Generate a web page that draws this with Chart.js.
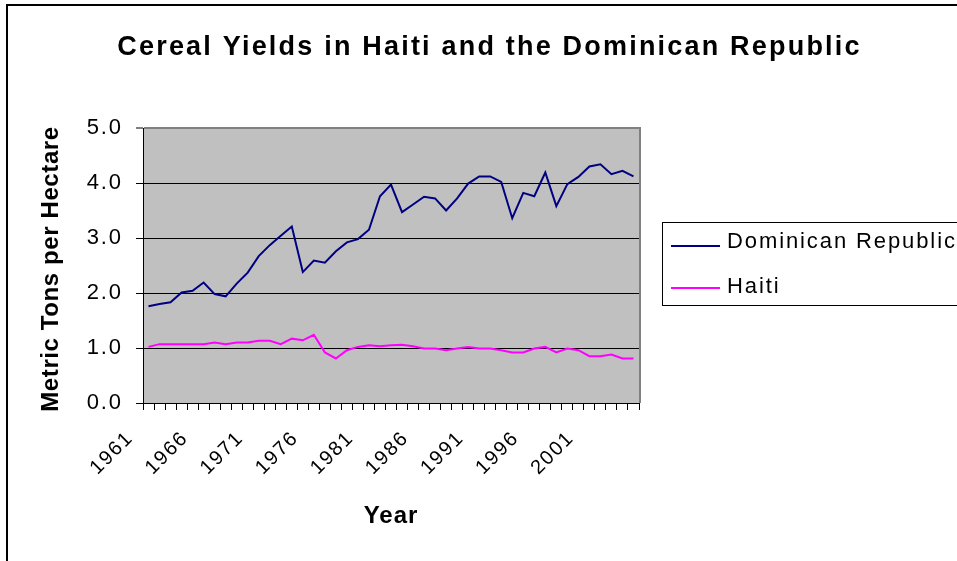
<!DOCTYPE html>
<html>
<head>
<meta charset="utf-8">
<script src="https://cdn.jsdelivr.net/npm/chart.js"></script>
<style>
html,body{margin:0;padding:0;background:#fff;}
canvas{display:block;}
</style>
</head>
<body>
<canvas id="c" width="957" height="561" style="width:957px;height:561px"></canvas>
<script>
// ---------- data ----------
const years = ['1961','1962','1963','1964','1965','1966','1967','1968','1969','1970',
  '1971','1972','1973','1974','1975','1976','1977','1978','1979','1980',
  '1981','1982','1983','1984','1985','1986','1987','1988','1989','1990',
  '1991','1992','1993','1994','1995','1996','1997','1998','1999','2000',
  '2001','2002','2003','2004','2005'];
const shownYearLabels = ['1961','1966','1971','1976','1981','1986','1991','1996','2001'];
const dominicanRepublic = [1.76,1.80,1.83,2.01,2.04,2.19,1.98,1.94,2.17,2.37,
  2.67,2.87,3.04,3.21,2.38,2.59,2.55,2.76,2.92,2.98,
  3.15,3.76,3.97,3.47,3.61,3.75,3.72,3.50,3.72,3.99,
  4.12,4.12,4.02,3.36,3.82,3.76,4.19,3.58,3.98,4.11,
  4.30,4.34,4.16,4.22,4.12];
const haiti = [1.02,1.07,1.07,1.07,1.07,1.07,1.10,1.07,1.10,1.10,
  1.13,1.13,1.07,1.17,1.14,1.24,0.92,0.81,0.96,1.02,
  1.05,1.03,1.05,1.06,1.03,0.99,0.99,0.96,0.99,1.02,
  0.99,0.99,0.96,0.92,0.92,0.99,1.02,0.92,0.99,0.96,
  0.85,0.85,0.88,0.81,0.81];
const seriesNames = ['Dominican Republic','Haiti'];
const chartTitle = 'Cereal Yields in Haiti and the Dominican Republic';
const yAxisTitle = 'Metric Tons per Hectare';
const xAxisTitle = 'Year';

// ---------- styling ----------
const FONT = "'Liberation Sans', Arial, Helvetica, sans-serif";
Chart.defaults.font.family = FONT;
Chart.defaults.color = '#000';

function patchScale(s, titleSp, labelSp, titleShiftY) {
  if (s.__patched) return;
  s.__patched = true;
  const dt = s.drawTitle.bind(s);
  const dl = s.drawLabels.bind(s);
  s.drawTitle = function () {
    const c = this.ctx, o = c.letterSpacing;
    c.save();
    c.translate(0, titleShiftY || 0);
    c.letterSpacing = titleSp; dt();
    c.restore();
    c.letterSpacing = o;
  };
  s.drawLabels = function (a) {
    const c = this.ctx, o = c.letterSpacing;
    c.letterSpacing = labelSp; dl(a); c.letterSpacing = o;
  };
}

const framePlugin = {
  id: 'frame',
  beforeDraw(chart) {
    const {ctx, chartArea: a} = chart;
    ctx.save();
    ctx.fillStyle = '#C0C0C0';
    ctx.fillRect(a.left, a.top, a.right - a.left, a.bottom - a.top);
    ctx.restore();
    ctx.letterSpacing = '2.2px';
  },
  beforeDatasetsDraw(chart) {
    const {ctx, chartArea: a} = chart;
    ctx.save();
    ctx.strokeStyle = '#808080';
    ctx.lineWidth = 2;
    ctx.beginPath();
    ctx.moveTo(a.right + 1, a.top - 1);
    ctx.lineTo(a.right + 1, a.bottom);
    ctx.stroke();
    ctx.restore();
  },
  afterDraw(chart) {
    const ctx = chart.ctx;
    ctx.save();
    // outer chart border
    ctx.strokeStyle = '#000';
    ctx.lineWidth = 2;
    ctx.strokeRect(7, 5, 2000, 2000);
    // legend
    ctx.lineWidth = 1;
    ctx.strokeRect(662.5, 222.5, 400, 83);
    const rows = [246, 288];
    const textY = [242, 287];
    ctx.font = '22px ' + FONT;
    ctx.textBaseline = 'middle';
    ctx.textAlign = 'left';
    ctx.letterSpacing = '1.9px';
    chart.data.datasets.forEach((ds, i) => {
      ctx.strokeStyle = ds.borderColor;
      ctx.lineWidth = 2;
      ctx.beginPath();
      ctx.moveTo(671, rows[i]);
      ctx.lineTo(720, rows[i]);
      ctx.stroke();
      ctx.fillStyle = '#000';
      ctx.fillText(ds.label, 727, textY[i]);
    });
    ctx.restore();
  }
};

new Chart(document.getElementById('c'), {
  type: 'line',
  data: {
    labels: years,
    datasets: [
      {label: seriesNames[0], data: dominicanRepublic, borderColor: '#000080', backgroundColor: '#000080',
       borderWidth: 2, pointRadius: 0, tension: 0, fill: false},
      {label: seriesNames[1], data: haiti, borderColor: '#FF00FF', backgroundColor: '#FF00FF',
       borderWidth: 2, pointRadius: 0, tension: 0, fill: false}
    ]
  },
  options: {
    responsive: false,
    animation: false,
    events: [],
    layout: {padding: {left: 22, right: 0, top: 0, bottom: 0}},
    plugins: {
      legend: {display: false},
      tooltip: {enabled: false},
      title: {
        display: true,
        text: chartTitle,
        color: '#000',
        font: {size: 27, weight: 'bold', family: FONT, lineHeight: 1.2},
        padding: {top: 31.3, bottom: 64.3}
      }
    },
    scales: {
      x: {
        type: 'category',
        offset: true,
        grid: {display: true, drawOnChartArea: false, drawTicks: true, tickLength: 7,
               color: '#000', offset: true, lineWidth: 1},
        border: {display: true, color: '#000', width: 1},
        ticks: {
          autoSkip: false, minRotation: 45, maxRotation: 45,
          font: {size: 20, family: FONT}, color: '#000', padding: 16.4, labelOffset: -18.3,
          callback: function (v, i) { return shownYearLabels.includes(years[i]) ? years[i] : ''; }
        },
        title: {display: true, text: xAxisTitle, color: '#000',
                font: {size: 24, weight: 'bold', family: FONT, lineHeight: 1.2},
                padding: {top: 0, bottom: 30.6}},
        afterFit(s) { s.height = 158; patchScale(s, '1px', '1.8px', 0); }
      },
      y: {
        type: 'linear',
        position: 'left',
        min: 0, max: 5,
        grid: {
          color: c => (c.tick && c.tick.value === 5) ? '#808080' : '#000',
          lineWidth: c => (c.tick && c.tick.value === 5) ? 2 : 1,
          tickColor: '#000', tickWidth: 1, tickLength: 7, drawTicks: true
        },
        border: {display: true, color: '#000', width: 1},
        ticks: {stepSize: 1, font: {size: 22, family: FONT}, color: '#000', padding: 13.2,
                callback: v => Number(v).toFixed(1)},
        title: {display: true, text: yAxisTitle, color: '#000',
                font: {size: 24, weight: 'bold', family: FONT, lineHeight: 1.2},
                padding: {top: 15, bottom: 0}},
        afterFit(s) { s.width = 121; patchScale(s, '0.6px', '1.8px', 3.5); }
      },
      yRightSpace: {
        type: 'linear',
        position: 'right',
        display: true,
        grid: {display: false, drawTicks: false},
        border: {display: false},
        ticks: {display: false},
        afterFit(s) { s.width = 318; }
      }
    }
  },
  plugins: [framePlugin]
});
</script>
</body>
</html>
